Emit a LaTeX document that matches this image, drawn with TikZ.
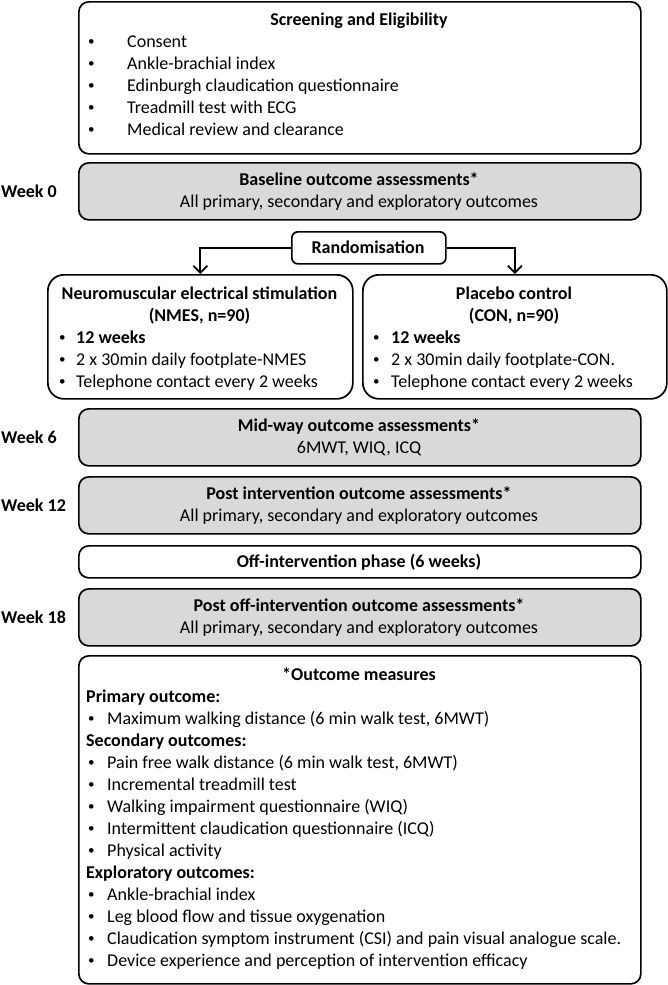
\documentclass[tikz,border=0pt]{standalone}
\usepackage{fontspec}
\setmainfont{Carlito}
\usetikzlibrary{arrows.meta}
\definecolor{boxgray}{HTML}{D9D9D9}
\newcommand\bul{\raisebox{1.6pt}{\fontsize{13}{13}\selectfont •}}
\newcommand\bitem[5]{%
  \node[txt,anchor=base west] (#1b) at (#2,#4) {\bul};
  \node[txt,anchor=base west] (#1) at (#3,#4) {#5};}
\begin{document}
\begin{tikzpicture}[x=1pt,y=-1pt,
  box/.style={draw=black, line width=1.7pt, rounded corners=10pt, inner sep=0pt, anchor=north west},
  gbox/.style={box, fill=boxgray},
  txt/.style={inner sep=0pt, font=\fontsize{18}{22}\selectfont},
  btxt/.style={inner sep=0pt, font=\fontsize{18}{22}\selectfont\bfseries},
  arr/.style={line width=1.8pt, -{Straight Barb[length=7pt,width=14pt,line width=1.8pt]}}
]
\useasboundingbox (0,0) rectangle (667,985);

% ---- boxes ----
\node[box, minimum width=562pt, minimum height=152pt] (screen) at (78,1) {};
\node[gbox, minimum width=562pt, minimum height=57pt] (base) at (78,162) {};
\node[box, rounded corners=6pt, minimum width=154pt, minimum height=32pt] (rand) at (291,231) {};
\node[box, rounded corners=16pt, minimum width=305pt, minimum height=124pt] (nmes) at (47,274) {};
\node[box, rounded corners=16pt, minimum width=304pt, minimum height=124pt] (con) at (362,274) {};
\node[gbox, minimum width=562pt, minimum height=57pt] (mid) at (78,408) {};
\node[gbox, minimum width=562pt, minimum height=57pt] (post) at (78,476) {};
\node[box, minimum width=562pt, minimum height=32pt] (off) at (78,545) {};
\node[gbox, minimum width=562pt, minimum height=57pt] (postoff) at (78,588) {};
\node[box, minimum width=562pt, minimum height=328pt] (outc) at (78,655) {};

% ---- connectors ----
\draw[arr] (rand.west) -| (nmes.north);
\draw[arr] (rand.east) -| (con.north);

% ---- week labels ----
\node[btxt, anchor=west] (w0) at (1,190.5 |- base.center) {Week 0};
\node[btxt, anchor=west] (w6) at (1,436.5 |- mid.center) {Week 6};
\node[btxt, anchor=west] (w12) at (1,504.5 |- post.center) {Week 12};
\node[btxt, anchor=west] (w18) at (1,616.5 |- postoff.center) {Week 18};

% ---- screening ----
\node[btxt, anchor=base] (st) at (359,25) {Screening and Eligibility};
\bitem{s1}{88}{127}{47}{Consent}
\bitem{s2}{88}{127}{69}{Ankle-brachial index}
\bitem{s3}{88}{127}{91}{Edinburgh claudication questionnaire}
\bitem{s4}{88}{127}{113}{Treadmill test with ECG}
\bitem{s5}{88}{127}{135}{Medical review and clearance}

% ---- baseline ----
\node[btxt, anchor=base] (bt1) at (359,185) {Baseline outcome assessments*};
\node[txt, anchor=base] (bt2) at (359,207) {All primary, secondary and exploratory outcomes};

% ---- randomisation ----
\node[btxt, anchor=base] (rt) at (368,253) {Randomisation};

% ---- NMES ----
\node[btxt, anchor=base] (n1) at (199.5,299) {Neuromuscular electrical stimulation};
\node[btxt, anchor=base] (n2) at (199.5,321) {(NMES, n=90)};
\node[txt,anchor=base west] (n3b) at (59,343) {\bul};
\node[btxt,anchor=base west] (n3) at (76,343) {12 weeks};
\bitem{n4}{59}{76}{365}{2 x 30min daily footplate-NMES}
\bitem{n5}{59}{76}{387}{Telephone contact every 2 weeks}

% ---- CON ----
\node[btxt, anchor=base] (c1) at (514,299) {Placebo control};
\node[btxt, anchor=base] (c2) at (514,321) {(CON, n=90)};
\node[txt,anchor=base west] (c3b) at (373,343) {\bul};
\node[btxt,anchor=base west] (c3) at (391,343) {12 weeks};
\bitem{c4}{373}{391}{365}{2 x 30min daily footplate-CON.}
\bitem{c5}{373}{391}{387}{Telephone contact every 2 weeks}

% ---- mid-way ----
\node[btxt, anchor=base] (m1) at (359,431.5) {Mid-way outcome assessments*};
\node[txt, anchor=base] (m2) at (359,453.5) {6MWT, WIQ, ICQ};

% ---- post ----
\node[btxt, anchor=base] (p1) at (359,499.5) {Post intervention outcome assessments*};
\node[txt, anchor=base] (p2) at (359,521.5) {All primary, secondary and exploratory outcomes};

% ---- off ----
\node[btxt, anchor=base] (o1) at (359,567) {Off-intervention phase (6 weeks)};

% ---- post off ----
\node[btxt, anchor=base] (q1) at (359,611.5) {Post off-intervention outcome assessments*};
\node[txt, anchor=base] (q2) at (359,633.5) {All primary, secondary and exploratory outcomes};

% ---- outcome measures ----
\node[btxt, anchor=base] (ot) at (359,680) {*Outcome measures};
\node[btxt, anchor=base west] (oh1) at (86,702) {Primary outcome:};
\bitem{oa1}{88}{107}{724}{Maximum walking distance (6 min walk test, 6MWT)}
\node[btxt, anchor=base west] (oh2) at (86,746) {Secondary outcomes:};
\bitem{ob1}{88}{107}{768}{Pain free walk distance (6 min walk test, 6MWT)}
\bitem{ob2}{88}{107}{790}{Incremental treadmill test}
\bitem{ob3}{88}{107}{812}{Walking impairment questionnaire (WIQ)}
\bitem{ob4}{88}{107}{834}{Intermittent claudication questionnaire (ICQ)}
\bitem{ob5}{88}{107}{856}{Physical activity}
\node[btxt, anchor=base west] (oh3) at (86,878) {Exploratory outcomes:};
\bitem{oc1}{88}{107}{900}{Ankle-brachial index}
\bitem{oc2}{88}{107}{922}{Leg blood flow and tissue oxygenation}
\bitem{oc3}{88}{107}{944}{Claudication symptom instrument (CSI) and pain visual analogue scale.}
\bitem{oc4}{88}{107}{966}{Device experience and perception of intervention efficacy}
\end{tikzpicture}
\end{document}
